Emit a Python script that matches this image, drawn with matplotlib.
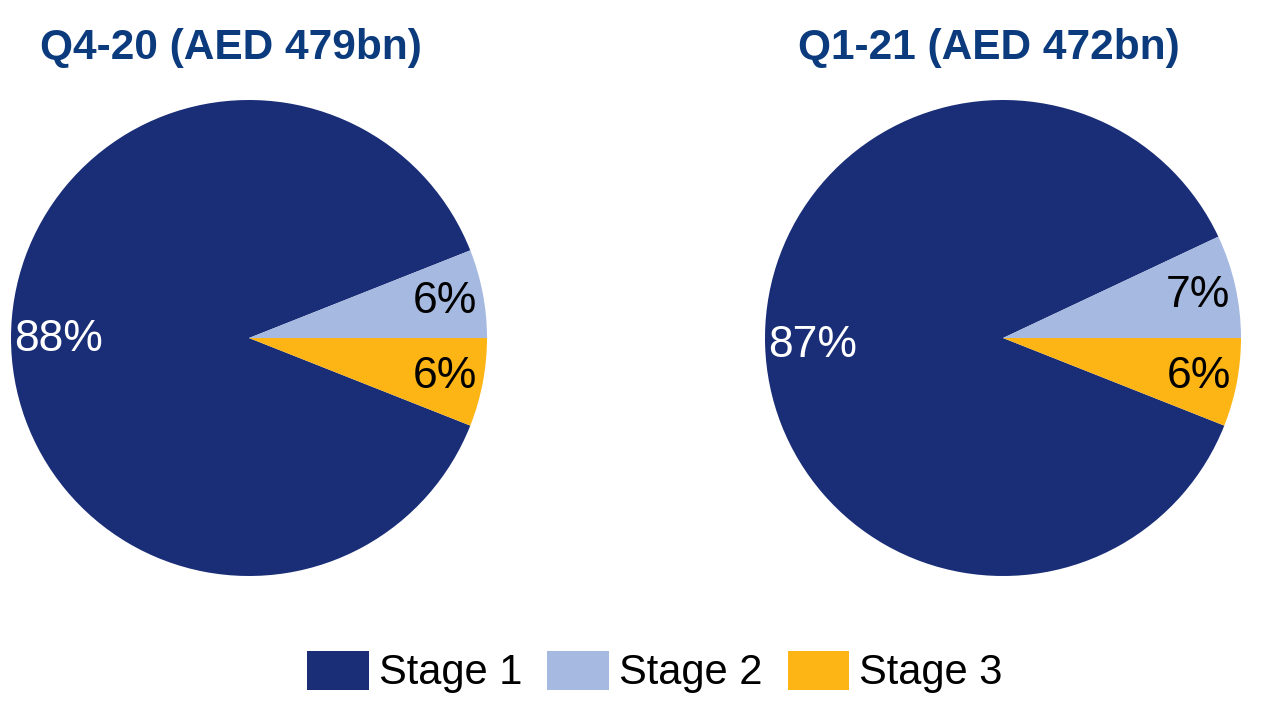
import matplotlib
matplotlib.use("Agg")
import matplotlib.pyplot as plt
from matplotlib.patches import Patch

plt.rcParams["font.family"] = ["Liberation Sans", "DejaVu Sans"]

# data
stages = ["Stage 1", "Stage 2", "Stage 3"]
titles = ["Q4-20 (AED 479bn)", "Q1-21 (AED 472bn)"]
q4_20 = [88, 6, 6]
q1_21 = [87, 7, 6]
colors = ["#1A2E78", "#A6B9E1", "#FDB515"]
label_colors = ["white", "black", "black"]
label_dist = [0.80, 0.84, 0.84]

W, H = 1268, 702
fig = plt.figure(figsize=(W / 100, H / 100), dpi=100)

R = 238
centers = [(249, 338), (1003, 338)]
title_x = [231, 989]

for values, title, (cx, cy), tx in zip([q4_20, q1_21], titles, centers, title_x):
    ax = fig.add_axes([(cx - R) / W, (H - cy - R) / H, 2 * R / W, 2 * R / H])
    # Stage 1 goes clockwise so that Stage 2 ends at 3 o'clock
    start = (values[0] + values[1]) * 3.6
    wedges, _, autotexts = ax.pie(
        values,
        colors=colors,
        startangle=start,
        counterclock=False,
        autopct=lambda p: f"{p:.0f}%",
        pctdistance=1.0,
        radius=1,
        wedgeprops=dict(linewidth=0),
        textprops=dict(fontsize=32),
    )
    for t, c, d in zip(autotexts, label_colors, label_dist):
        x, y = t.get_position()
        t.set_position((x * d, y * d - 0.005))
        t.set_color(c)
    ax.set_xlim(-1, 1)
    ax.set_ylim(-1, 1)
    ax.axis("off")
    fig.text(tx / W, 1 - 48 / H, title, ha="center", va="center",
             fontsize=30.5, fontweight="bold", color="#0B3A7D")

handles = [Patch(facecolor=c, edgecolor="none") for c in colors]
fig.legend(handles, stages, loc="center", bbox_to_anchor=(655 / W, 1 - 672 / H),
           ncol=3, frameon=False, fontsize=30, borderpad=0,
           handlelength=1.48, handleheight=1.08, handletextpad=0.24,
           columnspacing=0.6)

fig.savefig("out.png", dpi=100, facecolor="white")
